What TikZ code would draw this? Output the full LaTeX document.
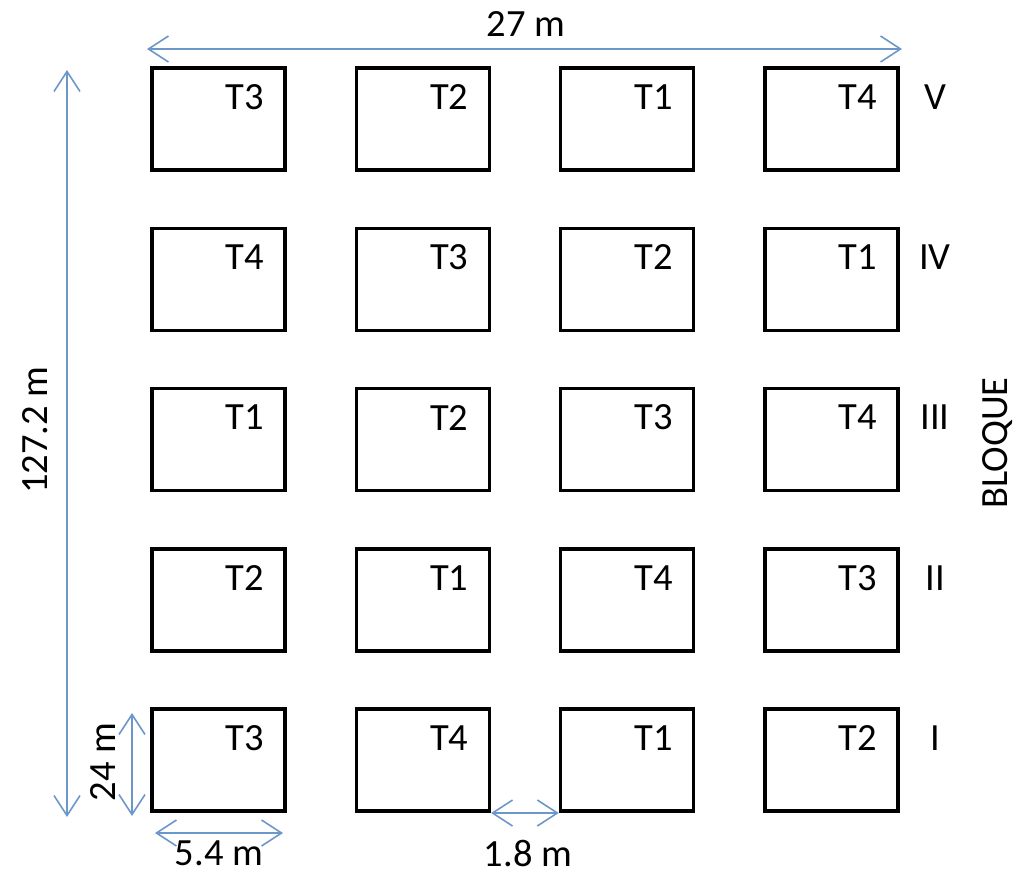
\documentclass[tikz,border=0pt]{standalone}
\usepackage{fontspec}
\setmainfont{Carlito}
\usetikzlibrary{arrows.meta,calc}
\begin{document}
\begin{tikzpicture}[x=1pt,y=-1pt,
  plot/.style={draw=black,line width=3.6pt,minimum width=133pt,minimum height=102pt,inner sep=0pt},
  lbl/.style={font=\fontsize{38.5}{42}\selectfont,inner sep=0pt,text=black},
  dim/.style={draw={rgb,255:red,109;green,151;blue,201},line width=1.6pt,
     {Straight Barb[length=20pt,width=26pt,line width=1.6pt]}-{Straight Barb[length=20pt,width=26pt,line width=1.6pt]}}]
\useasboundingbox (0,0) rectangle (1018,876);
\foreach \r/\a/\b/\c/\d/\rom in {1/T3/T2/T1/T4/V,2/T4/T3/T2/T1/IV,3/T1/T2/T3/T4/III,4/T2/T1/T4/T3/II,5/T3/T4/T1/T2/I}{
  \foreach \col/\t in {1/\a,2/\b,3/\c,4/\d}{
    \node[plot] (b\r\col) at ({218.5+204.3*(\col-1)},{119+160.3*(\r-1)}) {};
    \node[lbl] (t\r\col) at ($(b\r\col.center)+(26.5,-22)$) {\t};
  }
  \node[lbl] (r\r) at ({935},{97+160.3*(\r-1)}) {\rom};
}
\node[lbl,rotate=90] (bloque) at (998,443) {BLOQUE};
% top dimension
\coordinate (tl) at (147,49);
\coordinate (tr) at (902,49);
\draw[dim] (tl) -- (tr);
\node[lbl] (w27) at (526,24) {27 m};
% left dimension
\coordinate (lt) at (67,70);
\coordinate (lb) at (67,817);
\draw[dim] (lt) -- (lb);
\node[lbl,rotate=90] (h127) at (35,430) {127.2 m};
% 24 m
\coordinate (ht) at (132,713);
\coordinate (hb) at (132,816);
\draw[dim] (ht) -- (hb);
\node[lbl,rotate=90] (h24) at (103,762) {24 m};
% 5.4 m
\coordinate (wl) at (155,833);
\coordinate (wr) at (283,833);
\draw[dim] (wl) -- (wr);
\node[lbl] (w54) at (219,853) {5.4 m};
% 1.8 m
\draw[dim] (b52.south east) -- (b53.south west);
\node[lbl] (w18) at (528,853) {1.8 m};
\end{tikzpicture}
\end{document}
